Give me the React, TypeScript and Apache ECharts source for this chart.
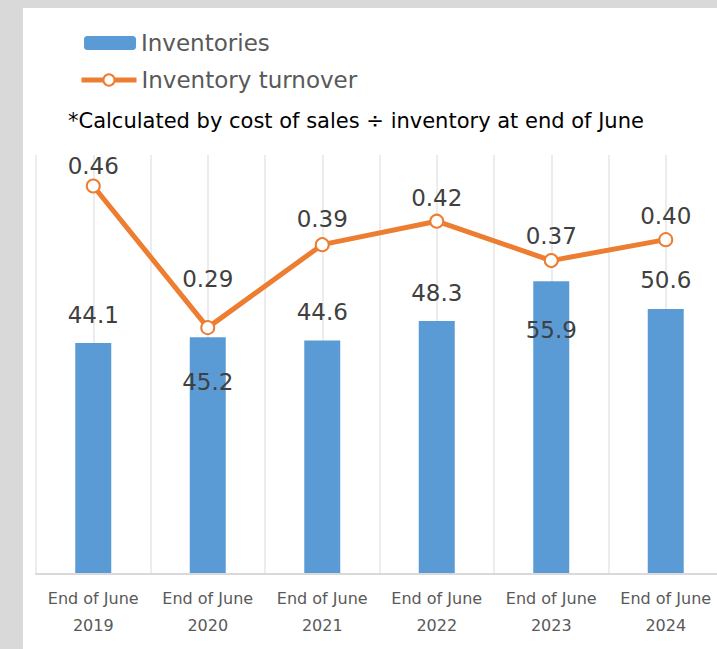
import React, { useEffect, useRef } from "react";
import * as echarts from "echarts";

const categories = [
  "End of June\n2019",
  "End of June\n2020",
  "End of June\n2021",
  "End of June\n2022",
  "End of June\n2023",
  "End of June\n2024",
];
const inventories = [44.1, 45.2, 44.6, 48.3, 55.9, 50.6];
const turnover = [0.463, 0.294, 0.393, 0.421, 0.374, 0.399];
// label placement per bar: position and distance in px
const barLabelPlacement: [string, number][] = [
  ["top", 17],
  ["insideTop", 33],
  ["top", 17],
  ["top", 17],
  ["insideTop", 37],
  ["top", 17],
];
// label distance above each line point
const lineLabelDistance = [1, 30, 7, 4, 6, 5];
const noteText = "*Calculated by cost of sales ÷ inventory at end of June";

const FONT = "DejaVu Sans";

export default function App() {
  const ref = useRef<HTMLDivElement>(null);
  useEffect(() => {
    if (!ref.current) return;
    const chart = echarts.init(ref.current, undefined, { renderer: "svg" });
    const legendText = { fontSize: 23, color: "#595959", fontFamily: FONT, lineHeight: 24 };
    chart.setOption({
      animation: false,
      textStyle: { fontFamily: FONT },
      grid: { left: 13, top: 147, width: 687, height: 419, containLabel: false },
      legend: [
        {
          data: ["Inventories"],
          orient: "vertical",
          left: 61,
          top: 23,
          padding: 0,
          itemWidth: 52,
          itemHeight: 14,
          textStyle: legendText,
        },
        {
          data: ["Inventory turnover"],
          orient: "vertical",
          left: 56,
          top: 60,
          padding: 0,
          itemWidth: 55,
          itemHeight: 14,
          lineStyle: { width: 5 },
          textStyle: legendText,
        },
      ],
      graphic: [
        {
          type: "text",
          left: 45,
          top: 102,
          style: { text: noteText, fontSize: 21, fill: "#000000", fontFamily: FONT },
        },
      ],
      xAxis: [
        {
          type: "category",
          data: categories,
          boundaryGap: true,
          axisLine: { show: true, lineStyle: { color: "#d9d9d9", width: 2 } },
          axisTick: { show: false },
          splitLine: { show: false },
          axisLabel: {
            interval: 0,
            color: "#595959",
            fontSize: 16,
            lineHeight: 27,
            margin: 11,
            fontFamily: FONT,
          },
          z: 3,
        },
        {
          type: "value",
          min: 0,
          max: categories.length,
          interval: 0.5,
          show: true,
          axisLine: { show: false },
          axisTick: { show: false },
          axisLabel: { show: false },
          splitLine: { show: true, lineStyle: { color: "#ececec", width: 2 } },
        },
      ],
      yAxis: [
        { type: "value", min: 0, max: 80, show: false, splitLine: { show: false } },
        { type: "value", min: 0, max: 0.5, show: false, splitLine: { show: false } },
      ],
      series: [
        {
          name: "Inventories",
          type: "bar",
          xAxisIndex: 0,
          yAxisIndex: 0,
          barWidth: 36,
          itemStyle: { color: "#5b9bd5" },
          data: inventories.map((v, i) => ({
            value: v,
            label: {
              show: true,
              position: barLabelPlacement[i][0],
              distance: barLabelPlacement[i][1],
              fontSize: 23,
              color: "#404040",
              fontFamily: FONT,
              formatter: (p: any) => Number(p.value).toFixed(1),
            },
          })),
          z: 2,
        },
        {
          name: "Inventory turnover",
          type: "line",
          xAxisIndex: 0,
          yAxisIndex: 1,
          data: turnover.map((v, i) => ({
            value: v,
            label: { distance: lineLabelDistance[i] },
          })),
          symbol: "circle",
          symbolSize: 13,
          lineStyle: { color: "#ed7d31", width: 5 },
          itemStyle: { color: "#ffffff", borderColor: "#ed7d31", borderWidth: 2 },
          label: {
            show: true,
            position: "top",
            fontSize: 23,
            color: "#404040",
            fontFamily: FONT,
            formatter: (p: any) => Number(p.value).toFixed(2),
          },
          z: 4,
        },
      ],
    });
    return () => chart.dispose();
  }, []);
  return (
    <div
      style={{
        position: "fixed",
        left: 0,
        top: 0,
        width: 717,
        height: 649,
        background: "#d9d9d9",
        overflow: "hidden",
      }}
    >
      <div
        ref={ref}
        style={{
          position: "absolute",
          left: 23,
          top: 8,
          width: 711,
          height: 641,
          background: "#ffffff",
        }}
      />
    </div>
  );
}
